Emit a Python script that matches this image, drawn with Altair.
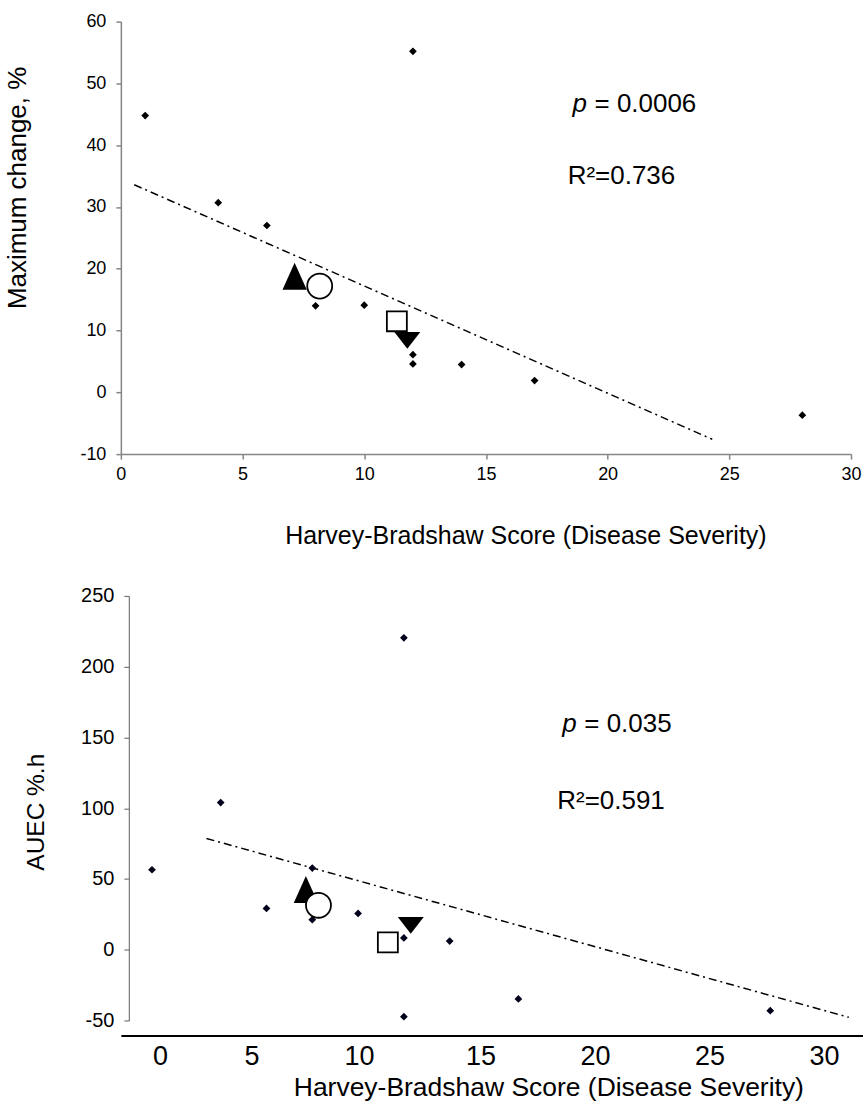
import altair as alt
import pandas as pd

# ---------------- data ----------------
# top panel: Maximum change, %
hb_top = [1, 4, 6, 8, 10, 12, 12, 12, 14, 17, 28]
max_change = [44.8, 30.7, 27.0, 14.0, 14.1, 55.2, 6.1, 4.6, 4.5, 1.9, -3.7]

# bottom panel: AUEC %.h
hb_bot = [1, 4, 6, 8, 8, 10, 12, 12, 12, 14, 17, 28]
auec = [56.5, 104.0, 29.2, 57.7, 21.2, 25.6, 220.4, 8.3, -47.3, 6.1, -34.8, -43.1]

# highlighted (large) markers
special_kind = ["up", "circle", "square", "down"]
special_top_x = [7.14, 8.17, 11.34, 11.77]
special_top_y = [18.8, 17.2, 11.5, 8.4]
special_bot_x = [7.72, 8.27, 11.30, 12.30]
special_bot_y = [42.5, 31.4, 5.2, 17.2]

# trend lines (end points)
trend_top_x = [0.55, 24.3]
trend_top_y = [33.6, -7.6]
trend_bot_x = [3.38, 31.43]
trend_bot_y = [78.6, -47.8]

# statistics annotations
p_top, r2_top = "0.0006", "0.736"
p_bot, r2_bot = "0.035", "0.591"
ann_top_x = [18.56, 18.36]
ann_top_y = [46.6, 35.0]
ann_bot_x = [18.92, 18.70]
ann_bot_y = [159.5, 105.2]

top_ticks_x = [0, 5, 10, 15, 20, 25, 30]
top_ticks_y = [-10, 0, 10, 20, 30, 40, 50, 60]
bot_ticks_x = [0, 5, 10, 15, 20, 25, 30]
bot_ticks_y = [-50, 0, 50, 100, 150, 200, 250]

FONT = "Liberation Sans"
TRI_UP = "M0,-1L0.9,1L-0.9,1Z"
TRI_DOWN = "M-1,-0.65L1,-0.65L0,0.65Z"
LABEL_EXPR = "toString(datum.value)"


def panel(px, py, sx, sy, tx, ty, ann_x, ann_y, p_txt, r2_txt, xenc, yenc, diamond_color):
    pts = pd.DataFrame({"x": px, "y": py})
    sp = pd.DataFrame({"x": sx, "y": sy, "kind": special_kind})
    tr = pd.DataFrame({"x": tx, "y": ty})
    ann_p = pd.DataFrame({"x": [ann_x[0]], "y": [ann_y[0]], "t": ["p"]})
    ann_eq = pd.DataFrame({"x": [ann_x[0]], "y": [ann_y[0]], "t": ["= " + p_txt]})
    ann_r = pd.DataFrame({"x": [ann_x[1]], "y": [ann_y[1]], "t": ["R\u00b2=" + r2_txt]})

    line = alt.Chart(tr).mark_line(color="black", strokeWidth=1.5, strokeDash=[8, 4, 2, 4]).encode(x=xenc, y=yenc)
    dots = alt.Chart(pts).mark_point(shape="diamond", size=60, filled=True, color=diamond_color, opacity=1).encode(x=xenc, y=yenc)

    def sp_layer(kind, shape, size, filled):
        base = alt.Chart(sp).transform_filter(alt.datum.kind == kind)
        if filled:
            m = base.mark_point(shape=shape, size=size, filled=True, color="black", opacity=1)
        else:
            m = base.mark_point(shape=shape, size=size, filled=True, fill="white", stroke="black",
                                strokeWidth=1.8, opacity=1)
        return m.encode(x=xenc, y=yenc)

    up = sp_layer("up", TRI_UP, 729, True)
    circ = sp_layer("circle", "circle", 625, False)
    sq = sp_layer("square", "square", 400, False)
    down = sp_layer("down", TRI_DOWN, 676, True)

    tp = alt.Chart(ann_p).mark_text(align="left", baseline="middle", font=FONT, fontSize=26,
                                     fontStyle="italic", color="black").encode(x=xenc, y=yenc, text="t:N")
    teq = alt.Chart(ann_eq).mark_text(align="left", baseline="middle", font=FONT, fontSize=26, dx=22,
                                       color="black").encode(x=xenc, y=yenc, text="t:N")
    tr2 = alt.Chart(ann_r).mark_text(align="left", baseline="middle", font=FONT, fontSize=26,
                                      color="black").encode(x=xenc, y=yenc, text="t:N")
    return alt.layer(line, dots, up, circ, sq, down, tp, teq, tr2)


TITLE_X = "Harvey-Bradshaw Score (Disease Severity)"

# ---------- top encodings ----------
x_top = alt.X("x:Q", scale=alt.Scale(domain=[0, 30], nice=False, zero=False),
              axis=alt.Axis(values=top_ticks_x, title=TITLE_X, grid=False, labelExpr=LABEL_EXPR,
                            domainColor="#868686", domainWidth=1.5, tickColor="#868686",
                            tickWidth=1.5, tickSize=5, labelFontSize=18, labelPadding=6,
                            labelColor="black", labelFont=FONT, labelFlush=False,
                            titleFont=FONT, titleFontSize=25, titleFontWeight="normal",
                            titleColor="black", titleX=405, titleY=81,
                            titleBaseline="middle", titleAlign="center"))
y_top = alt.Y("y:Q", scale=alt.Scale(domain=[-10, 60], nice=False, zero=False),
              axis=alt.Axis(values=top_ticks_y, title="Maximum change, %", grid=False, labelExpr=LABEL_EXPR,
                            domainColor="#868686", domainWidth=1.5, tickColor="#868686",
                            tickWidth=1.5, tickSize=5, labelFontSize=18, labelPadding=10,
                            labelColor="black", labelFont=FONT, labelFlush=False,
                            titleFont=FONT, titleFontSize=26, titleFontWeight="normal",
                            titleColor="black", titleX=-103, titleY=166,
                            titleBaseline="middle", titleAlign="center"))

# ---------- bottom encodings ----------
x_bot = alt.X("x:Q", scale=alt.Scale(domain=[-0.36, 32.05], nice=False, zero=False),
              axis=alt.Axis(values=bot_ticks_x, title=TITLE_X, grid=False, ticks=False, tickSize=0,
                            labelExpr=LABEL_EXPR,
                            domainColor="black", domainWidth=2, offset=15,
                            labelFontSize=27, labelPadding=8, labelColor="black", labelFont=FONT,
                            labelFlush=False,
                            labelOffset={"condition": [{"test": "datum.value == 0", "value": 31},
                                                       {"test": "datum.value == 10", "value": 1}],
                                         "value": 8},
                            titleFont=FONT, titleFontSize=26.5, titleFontWeight="normal",
                            titleColor="black", titleX=428, titleY=52,
                            titleBaseline="middle", titleAlign="center"))
y_bot = alt.Y("y:Q", scale=alt.Scale(domain=[-50, 250], nice=False, zero=False),
              axis=alt.Axis(values=bot_ticks_y, title="AUEC %.h", grid=False, offset=-8,
                            labelExpr=LABEL_EXPR,
                            domainColor="#777777", domainWidth=1.2, tickColor="#777777",
                            tickWidth=1.2, tickSize=5, labelFontSize=20, labelPadding=10,
                            labelColor="black", labelFont=FONT, labelFlush=False,
                            titleFont=FONT, titleFontSize=24.5, titleFontWeight="normal",
                            titleColor="black", titleX=-92, titleY=216,
                            titleBaseline="middle", titleAlign="center"))

top = panel(hb_top, max_change, special_top_x, special_top_y, trend_top_x, trend_top_y,
            ann_top_x, ann_top_y, p_top, r2_top, x_top, y_top, "black").properties(width=731, height=433)
bottom = panel(hb_bot, auec, special_bot_x, special_bot_y, trend_bot_x, trend_bot_y,
               ann_bot_x, ann_bot_y, p_bot, r2_bot, x_bot, y_bot, "#00001a").properties(width=743, height=425)

chart = alt.vconcat(top, bottom, spacing=38).properties(
    padding={"left": 5, "top": 12, "right": 0, "bottom": 0}, background="white"
).configure_view(stroke=None)

chart.save("out.html", embed_options={"renderer": "svg", "actions": False})
